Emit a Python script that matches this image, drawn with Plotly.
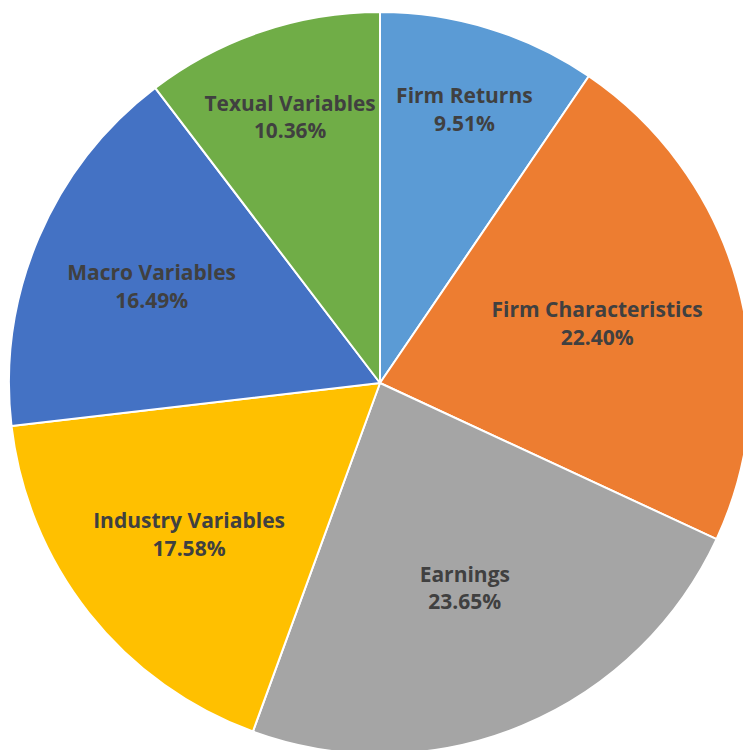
import plotly.graph_objects as go

labels = ["Firm Returns", "Firm Characteristics", "Earnings", "Industry Variables", "Macro Variables", "Texual Variables"]
values = [9.51, 22.40, 23.65, 17.58, 16.49, 10.36]
colors = ["#5B9BD5", "#ED7D31", "#A5A5A5", "#FFC000", "#4472C4", "#70AD47"]

W, H = 770, 770
cx, cy, r = 380, 383, 371

fig = go.Figure(go.Pie(
    labels=labels,
    values=values,
    sort=False,
    direction="clockwise",
    rotation=0,
    marker=dict(colors=colors, line=dict(color="white", width=2)),
    texttemplate="<b>%{label}</b><br><b>%{value:.2f}%</b>",
    textposition="inside",
    insidetextorientation="horizontal",
    textfont=dict(family="Open Sans", size=21, color="#404040"),
    hoverinfo="label+value",
    domain=dict(x=[(cx - r) / W, (cx + r) / W], y=[(H - cy - r) / H, (H - cy + r) / H]),
    showlegend=False,
))
fig.update_layout(width=W, height=H, margin=dict(l=0, r=0, t=0, b=0),
                  paper_bgcolor="white", plot_bgcolor="white")
fig.write_html("out.html", config={"displayModeBar": False},
               post_script="document.body.style.margin='0';document.body.style.overflow='hidden';document.documentElement.style.overflow='hidden';")
